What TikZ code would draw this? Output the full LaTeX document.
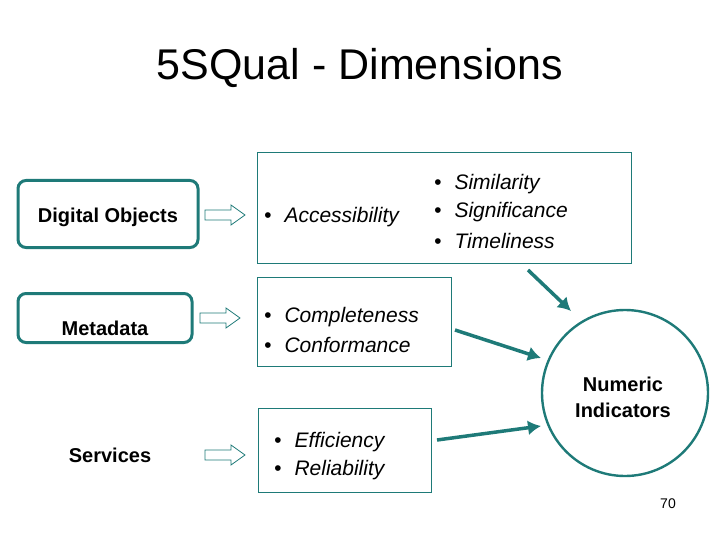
\documentclass[tikz,border=0pt]{standalone}
\usepackage{fontspec}
\setmainfont{Liberation Sans}
\usetikzlibrary{arrows.meta}
\definecolor{teal1}{HTML}{1E7A78}
\begin{document}
\begin{tikzpicture}[x=1pt,y=-1pt,
 src/.style={draw=teal1,line width=3pt,rounded corners=8pt,inner sep=0},
 bx/.style={draw=teal1,line width=0.8pt,inner sep=0},
 it/.style={font=\fontsize{21}{25}\selectfont\itshape,anchor=west,inner sep=0},
 lb/.style={font=\fontsize{20}{26}\selectfont\bfseries,inner sep=0},
 hollow/.style={draw=teal1,line width=0.8pt,fill=white},
 ar/.style={draw=teal1,line width=3.5pt,-{Latex[length=13pt,width=15pt]}}]
\useasboundingbox (0,0) rectangle (720,540);
\node[font=\fontsize{43}{50}\selectfont] (title) at (360,68) {5SQual - Dimensions};
\node[src,minimum width=180pt,minimum height=67pt] (dobj) at (108,214) {};
\node[lb] (dobjt) at (108,217) {Digital Objects};
\node[src,minimum width=174pt,minimum height=49pt] (meta) at (105,318) {};
\node[lb] (metat) at (105,328) {Metadata};
\node[lb] (serv) at (110,455) {Services};
\node[bx,minimum width=374pt,minimum height=111pt] (b1) at (444,207.5) {};
\node[bx,minimum width=194pt,minimum height=89pt] (b2) at (354,321.5) {};
\node[bx,minimum width=173pt,minimum height=84pt] (b3) at (344.5,450) {};
\node[it] (s1) at (434,184) {\textbullet\hspace{13pt}Similarity};
\node[it] (s2) at (264,217) {\textbullet\hspace{13pt}Accessibility};
\node[it] (s3) at (434,212) {\textbullet\hspace{13pt}Significance};
\node[it] (s4) at (434,241) {\textbullet\hspace{13pt}Timeliness};
\node[it] (c1) at (264,317) {\textbullet\hspace{13pt}Completeness};
\node[it] (c2) at (264,345) {\textbullet\hspace{13pt}Conformance};
\node[it] (e1) at (274,442) {\textbullet\hspace{13pt}Efficiency};
\node[it] (e2) at (274,470) {\textbullet\hspace{13pt}Reliability};
\node[draw=teal1,line width=2.4pt,circle,minimum size=166pt,inner sep=0] (ni) at (625,393) {};
\node[lb,align=center] (nit) at (623,397) {Numeric\\Indicators};
\foreach \xx/\yy in {205/215,200/318,205/455}{
 \path[hollow] (\xx,\yy-5) -- (\xx+26,\yy-5) -- (\xx+26,\yy-10) -- (\xx+40,\yy) -- (\xx+26,\yy+10) -- (\xx+26,\yy+5) -- (\xx,\yy+5) -- cycle;}
\coordinate (a1) at (528,270);
\coordinate (a2) at (455,330);
\coordinate (a3) at (437,440);
\coordinate (t1) at (571,311);
\coordinate (t2) at (541,358);
\coordinate (t3) at (541,426);
\draw[ar] (a1) -- (t1);
\draw[ar] (a2) -- (t2);
\draw[ar] (a3) -- (t3);
\node[font=\fontsize{14}{16}\selectfont] (pg) at (668,504) {70};
\end{tikzpicture}
\end{document}
